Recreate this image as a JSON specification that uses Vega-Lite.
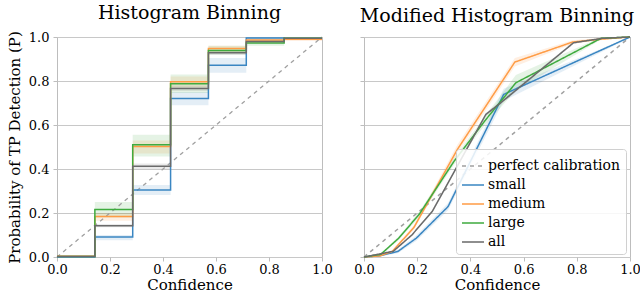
{
  "$schema": "https://vega.github.io/schema/vega-lite/v6.json",
  "padding": {"left": 6, "top": 3, "right": 6, "bottom": 0},
  "spacing": 42,
  "bounds": "flush",
  "config": {
    "font": "DejaVu Serif",
    "view": {"stroke": "#bdbdbd", "strokeWidth": 1},
    "axis": {
      "labelFont": "DejaVu Serif", "titleFont": "DejaVu Serif",
      "labelFontSize": 13, "titleFontSize": 15, "titleFontWeight": 400,
      "labelColor": "#000", "titleColor": "#000", "domain": false,
      "tickColor": "#bdbdbd", "tickSize": 4, "gridColor": "#c8c8c8",
      "labelFlush": false, "labelOverlap": false, "labelPadding": 2
    },
    "title": {"font": "DejaVu Serif", "fontSize": 19, "fontWeight": 400, "color": "#000", "offset": 8},
    "legend": {
      "labelFont": "DejaVu Serif", "labelFontSize": 14, "labelColor": "#000",
      "symbolType": "stroke", "symbolSize": 484, "symbolStrokeWidth": 1.6,
      "rowPadding": -3, "padding": 5, "fillColor": "rgba(255,255,255,0.85)",
      "strokeColor": "#d0d0d0", "cornerRadius": 3, "labelOffset": 3
    }
  },
  "datasets": {
    "hist": [
      {"series": "perfect calibration", "x": 0, "y": 0, "lo": 0, "hi": 0},
      {"series": "perfect calibration", "x": 1, "y": 1, "lo": 1, "hi": 1},
      {"series": "small", "x": 0, "y": 0, "lo": 0, "hi": 0.008},
      {"series": "small", "x": 0.1429, "y": 0.091, "lo": 0.076, "hi": 0.1},
      {"series": "small", "x": 0.2857, "y": 0.304, "lo": 0.282, "hi": 0.327},
      {"series": "small", "x": 0.4286, "y": 0.721, "lo": 0.69, "hi": 0.75},
      {"series": "small", "x": 0.5714, "y": 0.872, "lo": 0.837, "hi": 0.905},
      {"series": "small", "x": 0.7143, "y": 0.995, "lo": 0.985, "hi": 1.0},
      {"series": "small", "x": 0.8571, "y": 0.993, "lo": 0.988, "hi": 0.997},
      {"series": "small", "x": 1, "y": 0.993, "lo": 0.988, "hi": 0.997},
      {"series": "medium", "x": 0, "y": 0.003, "lo": 0, "hi": 0.008},
      {"series": "medium", "x": 0.1429, "y": 0.184, "lo": 0.165, "hi": 0.2},
      {"series": "medium", "x": 0.2857, "y": 0.502, "lo": 0.47, "hi": 0.53},
      {"series": "medium", "x": 0.4286, "y": 0.797, "lo": 0.77, "hi": 0.82},
      {"series": "medium", "x": 0.5714, "y": 0.948, "lo": 0.93, "hi": 0.96},
      {"series": "medium", "x": 0.7143, "y": 0.986, "lo": 0.975, "hi": 0.995},
      {"series": "medium", "x": 0.8571, "y": 0.99, "lo": 0.982, "hi": 0.996},
      {"series": "medium", "x": 1, "y": 0.99, "lo": 0.982, "hi": 0.996},
      {"series": "large", "x": 0, "y": 0.002, "lo": 0, "hi": 0.006},
      {"series": "large", "x": 0.1429, "y": 0.216, "lo": 0.18, "hi": 0.25},
      {"series": "large", "x": 0.2857, "y": 0.51, "lo": 0.457, "hi": 0.556},
      {"series": "large", "x": 0.4286, "y": 0.787, "lo": 0.746, "hi": 0.83},
      {"series": "large", "x": 0.5714, "y": 0.939, "lo": 0.92, "hi": 0.96},
      {"series": "large", "x": 0.7143, "y": 0.973, "lo": 0.96, "hi": 0.985},
      {"series": "large", "x": 0.8571, "y": 0.994, "lo": 0.99, "hi": 0.998},
      {"series": "large", "x": 1, "y": 0.994, "lo": 0.99, "hi": 0.998},
      {"series": "all", "x": 0, "y": 0.002, "lo": 0, "hi": 0.005},
      {"series": "all", "x": 0.1429, "y": 0.142, "lo": 0.135, "hi": 0.15},
      {"series": "all", "x": 0.2857, "y": 0.412, "lo": 0.4, "hi": 0.425},
      {"series": "all", "x": 0.4286, "y": 0.766, "lo": 0.755, "hi": 0.78},
      {"series": "all", "x": 0.5714, "y": 0.928, "lo": 0.918, "hi": 0.936},
      {"series": "all", "x": 0.7143, "y": 0.98, "lo": 0.975, "hi": 0.985},
      {"series": "all", "x": 0.8571, "y": 0.994, "lo": 0.99, "hi": 0.997},
      {"series": "all", "x": 1, "y": 0.994, "lo": 0.99, "hi": 0.997}
    ],
    "mod": [
      {"series": "perfect calibration", "x": 0, "y": 0, "lo": 0, "hi": 0},
      {"series": "perfect calibration", "x": 1, "y": 1, "lo": 1, "hi": 1},
      {"series": "small", "x": 0, "y": 0, "lo": 0, "hi": 0},
      {"series": "small", "x": 0.056, "y": 0.005, "lo": 0.002, "hi": 0.008},
      {"series": "small", "x": 0.127, "y": 0.025, "lo": 0.017, "hi": 0.033},
      {"series": "small", "x": 0.197, "y": 0.086, "lo": 0.074, "hi": 0.098},
      {"series": "small", "x": 0.316, "y": 0.229, "lo": 0.212, "hi": 0.246},
      {"series": "small", "x": 0.525, "y": 0.739, "lo": 0.71, "hi": 0.765},
      {"series": "small", "x": 1, "y": 1, "lo": 0.997, "hi": 1},
      {"series": "medium", "x": 0, "y": 0, "lo": 0, "hi": 0},
      {"series": "medium", "x": 0.06, "y": 0.005, "lo": 0.002, "hi": 0.008},
      {"series": "medium", "x": 0.107, "y": 0.026, "lo": 0.02, "hi": 0.032},
      {"series": "medium", "x": 0.188, "y": 0.135, "lo": 0.125, "hi": 0.145},
      {"series": "medium", "x": 0.351, "y": 0.489, "lo": 0.47, "hi": 0.51},
      {"series": "medium", "x": 0.567, "y": 0.886, "lo": 0.866, "hi": 0.905},
      {"series": "medium", "x": 0.784, "y": 0.977, "lo": 0.969, "hi": 0.985},
      {"series": "medium", "x": 0.891, "y": 0.99, "lo": 0.985, "hi": 0.995},
      {"series": "medium", "x": 1, "y": 1, "lo": 1, "hi": 1},
      {"series": "large", "x": 0, "y": 0, "lo": 0, "hi": 0},
      {"series": "large", "x": 0.063, "y": 0.012, "lo": 0.008, "hi": 0.016},
      {"series": "large", "x": 0.13, "y": 0.085, "lo": 0.077, "hi": 0.093},
      {"series": "large", "x": 0.207, "y": 0.193, "lo": 0.181, "hi": 0.205},
      {"series": "large", "x": 0.339, "y": 0.436, "lo": 0.421, "hi": 0.451},
      {"series": "large", "x": 0.455, "y": 0.62, "lo": 0.6, "hi": 0.64},
      {"series": "large", "x": 0.571, "y": 0.792, "lo": 0.757, "hi": 0.827},
      {"series": "large", "x": 0.891, "y": 0.994, "lo": 0.989, "hi": 0.999},
      {"series": "large", "x": 1, "y": 1, "lo": 1, "hi": 1},
      {"series": "all", "x": 0, "y": 0, "lo": 0, "hi": 0},
      {"series": "all", "x": 0.11, "y": 0.026, "lo": 0.023, "hi": 0.029},
      {"series": "all", "x": 0.18, "y": 0.1, "lo": 0.095, "hi": 0.105},
      {"series": "all", "x": 0.257, "y": 0.208, "lo": 0.202, "hi": 0.214},
      {"series": "all", "x": 0.458, "y": 0.648, "lo": 0.64, "hi": 0.656},
      {"series": "all", "x": 0.514, "y": 0.701, "lo": 0.693, "hi": 0.709},
      {"series": "all", "x": 0.788, "y": 0.974, "lo": 0.969, "hi": 0.979},
      {"series": "all", "x": 0.897, "y": 0.994, "lo": 0.991, "hi": 0.997},
      {"series": "all", "x": 1, "y": 1, "lo": 1, "hi": 1}
    ]
  },
  "resolve": {"scale": {"color": "independent", "strokeDash": "independent", "fill": "independent"}, "legend": {"color": "independent", "strokeDash": "independent"}},
  "hconcat": [
    {
      "width": 265, "height": 220,
      "title": {"text": "Histogram Binning"},
      "data": {"name": "hist"},
      "encoding": {
        "x": {"field": "x", "type": "quantitative", "scale": {"domain": [0, 1], "nice": false},
              "axis": {"title": "Confidence", "values": [0, 0.2, 0.4, 0.6, 0.8, 1.0], "format": ".1f", "grid": false, "titlePadding": 1, "titleFontWeight": 400}},
        "y": {"field": "y", "type": "quantitative", "scale": {"domain": [0, 1], "nice": false},
              "axis": {"title": "Probability of TP Detection (P)", "values": [0, 0.2, 0.4, 0.6, 0.8, 1.0], "format": ".1f", "grid": true, "labelPadding": 4, "titlePadding": 6, "titleFontWeight": 400}}
      },
      "layer": [
        {
          "transform": [{"filter": "datum.series != 'perfect calibration'"}],
          "mark": {"type": "area", "interpolate": "step-after", "opacity": 0.12},
          "encoding": {
            "y": {"field": "lo", "type": "quantitative"},
            "y2": {"field": "hi"},
            "fill": {"field": "series", "type": "nominal", "legend": null,
                     "scale": {"domain": ["small", "medium", "large", "all"], "range": ["#1f77b4", "#ff7f0e", "#2ca02c", "#555555"]}}
          }
        },
        {
          "transform": [{"filter": "datum.series == 'perfect calibration'"}],
          "mark": {"type": "line", "color": "#a0a0a0", "strokeDash": [4, 4], "strokeWidth": 1.3},
          "encoding": {}
        },
        {
          "transform": [{"filter": "datum.series != 'perfect calibration'"}],
          "mark": {"type": "line", "interpolate": "step-after", "strokeWidth": 1.5},
          "encoding": {
            "color": {"field": "series", "type": "nominal", "legend": null,
                      "scale": {"domain": ["small", "medium", "large", "all"], "range": ["#3a86c2", "#ff9c45", "#3fab3f", "#6a6a6a"]}}
          }
        }
      ]
    },
    {
      "width": 266, "height": 220,
      "title": {"text": "Modified Histogram Binning"},
      "data": {"name": "mod"},
      "encoding": {
        "x": {"field": "x", "type": "quantitative", "scale": {"domain": [0, 1], "nice": false},
              "axis": {"title": "Confidence", "values": [0, 0.2, 0.4, 0.6, 0.8, 1.0], "format": ".1f", "grid": false, "titlePadding": 1, "titleFontWeight": 400}},
        "y": {"field": "y", "type": "quantitative", "scale": {"domain": [0, 1], "nice": false},
              "axis": {"title": null, "labels": false, "values": [0, 0.2, 0.4, 0.6, 0.8, 1.0], "grid": true}}
      },
      "layer": [
        {
          "transform": [{"filter": "datum.series != 'perfect calibration'"}],
          "mark": {"type": "area", "opacity": 0.12},
          "encoding": {
            "y": {"field": "lo", "type": "quantitative"},
            "y2": {"field": "hi"},
            "fill": {"field": "series", "type": "nominal", "legend": null,
                     "scale": {"domain": ["small", "medium", "large", "all"], "range": ["#1f77b4", "#ff7f0e", "#2ca02c", "#555555"]}}
          }
        },
        {
          "mark": {"type": "line", "strokeWidth": 1.5},
          "encoding": {
            "color": {"field": "series", "type": "nominal", "sort": ["perfect calibration", "small", "medium", "large", "all"],
                      "scale": {"domain": ["perfect calibration", "small", "medium", "large", "all"], "range": ["#a0a0a0", "#3a86c2", "#ff9c45", "#3fab3f", "#6a6a6a"]},
                      "legend": {"title": null, "orient": "none", "legendX": 92, "legendY": 112}},
            "strokeDash": {"field": "series", "type": "nominal", "sort": ["perfect calibration", "small", "medium", "large", "all"],
                           "scale": {"domain": ["perfect calibration", "small", "medium", "large", "all"], "range": [[4, 4], [1, 0], [1, 0], [1, 0], [1, 0]]},
                           "legend": {"title": null, "orient": "none", "legendX": 92, "legendY": 112}}
          }
        }
      ]
    }
  ]
}
